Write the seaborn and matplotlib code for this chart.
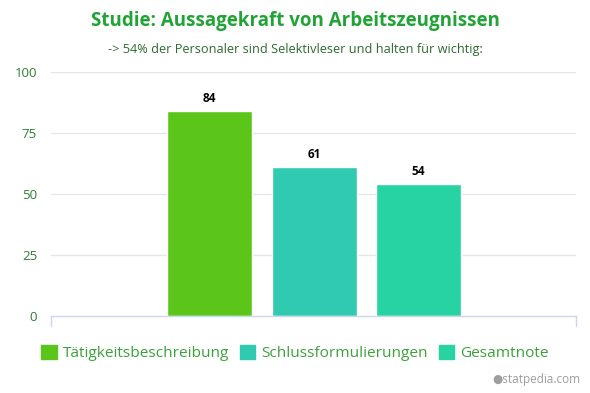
import matplotlib
matplotlib.use("Agg")
import matplotlib.pyplot as plt
import seaborn as sns
import pandas as pd

categories = ["Tätigkeitsbeschreibung", "Schlussformulierungen", "Gesamtnote"]
values = [84, 61, 54]
colors = ["#5BC51A", "#30CAB0", "#27D3A2"]
yticks = [0, 25, 50, 75, 100]

sns.set_theme(style="white")
plt.rcParams['font.family'] = ['Open Sans', 'DejaVu Sans']

df = pd.DataFrame({"cat": categories, "val": values})

fig = plt.figure(figsize=(5.9, 3.93), dpi=100)
ax = fig.add_axes([51/590, 1-316/393, 525/590, 244/393])

sns.barplot(data=df, x="cat", y="val", hue="cat", palette=colors, dodge=False,
            width=0.813, legend=False, ax=ax, saturation=1)

ax.set_xlim(-1.517, 3.507)
ax.set_ylim(0, 100)
ax.set_yticks(yticks)
ax.set_yticklabels([str(t) for t in yticks], color="#2E7D32", fontsize=9.5)
ax.tick_params(axis="y", length=0, pad=10)
ax.set_xticks([])
ax.set_xlabel("")
ax.set_ylabel("")
for t in yticks[1:]:
    ax.axhline(t, color="#E6E6E6", lw=1, zorder=0)
for s in ["top", "right", "left"]:
    ax.spines[s].set_visible(False)
ax.spines["bottom"].set_color("#CCD6EB")
ax.spines["bottom"].set_linewidth(1)
for xv in ax.get_xlim():
    ax.plot([xv, xv], [0, -4], color="#CCD6EB", lw=1, clip_on=False)

for i, v in enumerate(values):
    ax.text(i, v + 2.5, str(v), ha="center", va="bottom", fontsize=8.5,
            fontweight="bold", color="#000000")

fig.text(0.5, 1-21/393, "Studie: Aussagekraft von Arbeitszeugnissen", ha="center",
         va="center", fontsize=13.5, fontweight="bold", color="#21A336")
fig.text(0.5, 1-50/393, "-> 54% der Personaler sind Selektivleser und halten für wichtig:",
         ha="center", va="center", fontsize=9.2, color="#2E6B2E")

handles = [plt.Rectangle((0, 0), 1, 1, color=c) for c in colors]
leg = fig.legend(handles, categories, loc="center", bbox_to_anchor=(0.5, 1-353/393),
                 ncol=3, frameon=False, fontsize=11.1, handlelength=1.0, handleheight=1.0,
                 handletextpad=0.4, columnspacing=0.7)
for t in leg.get_texts():
    t.set_color("#3AA13A")

fig.text(1-10/590, 1-380/393, "●statpedia.com", ha="right", va="center",
         fontsize=8.5, color="#9E9E9E")

fig.savefig("out.png", dpi=100, facecolor="white")
